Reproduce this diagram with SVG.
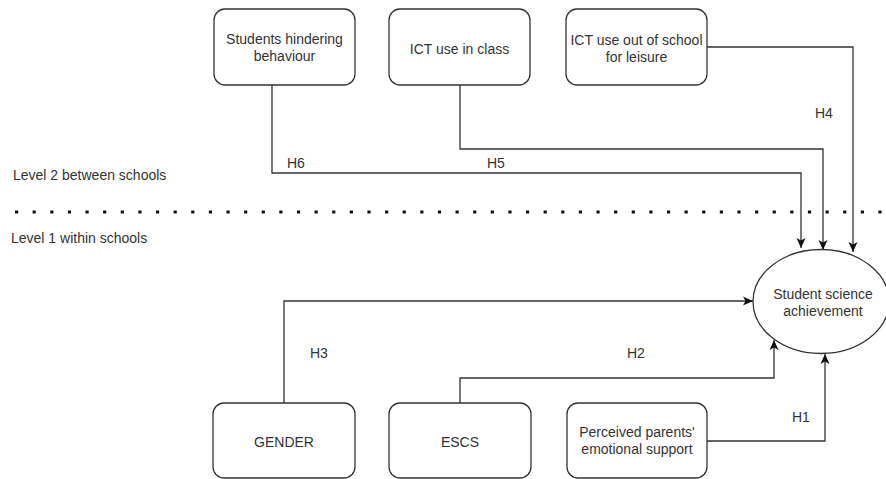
<svg xmlns="http://www.w3.org/2000/svg" width="886" height="479" viewBox="0 0 886 479">
<style>
.box{fill:#fff;stroke:#333;stroke-width:1.3}
.t{font-family:"Liberation Sans",Arial,sans-serif;font-size:14px;fill:#333}
.c{text-anchor:middle}
.ln{fill:none;stroke:#333;stroke-width:1.3}
</style>
<defs>
<marker id="arr" viewBox="0 0 10 10" refX="10" refY="5" markerWidth="10" markerHeight="10" markerUnits="userSpaceOnUse" orient="auto">
<path d="M0,0.5 L10,5 L0,9.5 L2.5,5 z" fill="#111"/>
</marker>
</defs>
<rect width="886" height="479" fill="#fff"/>
<g id="levels">
<text class="t" x="13" y="180">Level 2 between schools</text>
<text class="t" x="11" y="243">Level 1 within schools</text>
<line x1="15" y1="212" x2="886" y2="212" stroke="#111" stroke-width="3.2" stroke-dasharray="3.2 14.42"/>
</g>
<g id="connectors">
<path class="ln" d="M272,85 V173 H801 V248" marker-end="url(#arr)"/>
<path class="ln" d="M460,85 V149 H823 V250" marker-end="url(#arr)"/>
<path class="ln" d="M707,47 H853 V252" marker-end="url(#arr)"/>
<path class="ln" d="M284,403 V301 H753" marker-end="url(#arr)"/>
<path class="ln" d="M460,403 V378 H774 V340" marker-end="url(#arr)"/>
<path class="ln" d="M707,441 H825 V354" marker-end="url(#arr)"/>
<text class="t" x="287" y="168">H6</text>
<text class="t" x="487" y="168">H5</text>
<text class="t" x="815" y="118">H4</text>
<text class="t" x="310" y="358">H3</text>
<text class="t" x="627" y="358">H2</text>
<text class="t" x="792" y="422">H1</text>
</g>
<g id="n-hindering">
<rect class="box" x="214" y="9" width="141" height="76" rx="11"/>
<text class="t c" x="284.5" y="44">Students hindering</text>
<text class="t c" x="284.5" y="61">behaviour</text>
</g>
<g id="n-ictclass">
<rect class="box" x="389" y="9" width="141" height="76" rx="11"/>
<text class="t c" x="459.5" y="54">ICT use in class</text>
</g>
<g id="n-ictleisure">
<rect class="box" x="566" y="9" width="141" height="76" rx="11"/>
<text class="t c" x="636.5" y="45">ICT use out of school</text>
<text class="t c" x="636.5" y="62">for leisure</text>
</g>
<g id="n-gender">
<rect class="box" x="213" y="403" width="142" height="75" rx="11"/>
<text class="t c" x="284" y="447">GENDER</text>
</g>
<g id="n-escs">
<rect class="box" x="389" y="403" width="142" height="75" rx="11"/>
<text class="t c" x="460" y="447">ESCS</text>
</g>
<g id="n-parents">
<rect class="box" x="567" y="403" width="140" height="75" rx="11"/>
<text class="t c" x="637" y="437">Perceived parents'</text>
<text class="t c" x="637" y="454">emotional support</text>
</g>
<g id="n-achievement">
<ellipse class="box" cx="821" cy="301.5" rx="68" ry="52"/>
<text class="t c" x="823" y="299">Student science</text>
<text class="t c" x="823" y="316">achievement</text>
</g>
</svg>
